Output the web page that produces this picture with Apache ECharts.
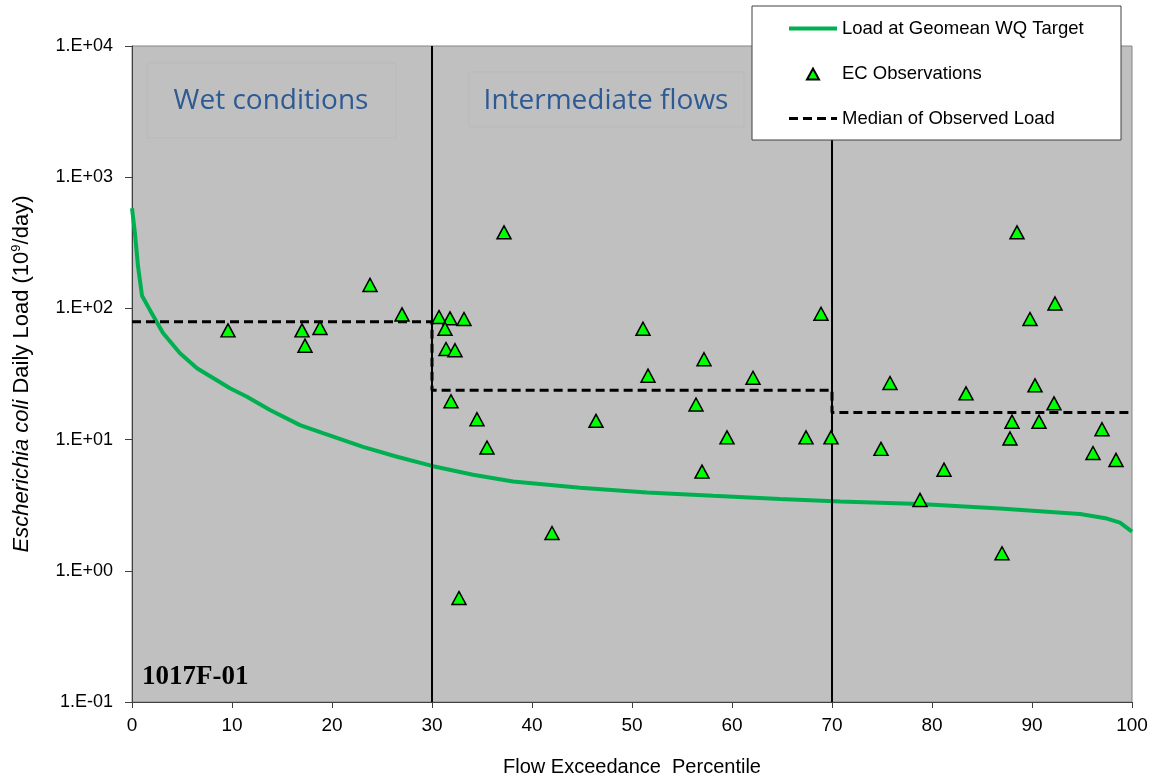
<!DOCTYPE html>
<html>
<head>
<meta charset="utf-8">
<script src="https://cdn.jsdelivr.net/npm/echarts@6/dist/echarts.min.js"></script>
<style>
html,body{margin:0;padding:0;background:#fff;}
#chart{width:1158px;height:778px;}
</style>
</head>
<body>
<div id="chart"></div>
<script>
// ---- data ----
const targetPct  = [0, 0.3, 0.6, 1.0, 1.8, 3.1, 4.8, 6.5, 9.8, 11.5, 13.8, 16.8, 19.1, 23.1, 26.5, 30, 34.1, 38.1, 44.8, 51.5, 58.1, 64.8, 70.8, 78.8, 86.8, 94.8, 97.5, 98.8, 100];
const targetLoad = [580, 370, 210, 125, 97, 65, 45.5, 35, 24.6, 21.2, 16.8, 12.9, 11.2, 8.8, 7.4, 6.3, 5.4, 4.8, 4.3, 3.96, 3.73, 3.52, 3.38, 3.23, 2.99, 2.71, 2.5, 2.33, 1.99];

const obsPct  = [9.6, 17.0, 17.3, 18.8, 23.8, 27.0, 30.7, 31.8, 33.2, 31.3, 31.4, 32.3, 31.9, 34.5, 35.5, 32.7, 37.2,
                 51.1, 51.6, 57.2, 62.1, 68.9, 56.4, 46.4, 59.5, 67.4, 69.9, 57.0, 42.0,
                 88.5, 92.3, 89.8, 75.8, 83.4, 90.3, 92.2, 88.0, 90.7, 87.8, 97.0, 96.1, 98.4, 74.9, 81.2, 78.8, 87.0];
const obsLoad = [68, 68, 52, 71, 151, 90, 86, 84, 83, 70, 49, 48, 19.6, 14.3, 8.7, 0.62, 380,
                 70, 30.7, 41, 29.6, 91, 18.5, 13.9, 10.4, 10.4, 10.4, 5.7, 1.94,
                 380, 109, 83, 27, 22.5, 25.9, 18.9, 13.7, 13.7, 10.2, 12, 7.9, 7.0, 8.5, 5.9, 3.47, 1.36];

const medianPct  = [0, 30, 30, 70, 70, 100];
const medianLoad = [79, 79, 23.8, 23.8, 16.1, 16.1];

const regimeBounds = [30, 70];
const regimeLabels = ['Wet conditions', 'Intermediate flows'];
const stationLabel = '1017F-01';
const seriesNames = ['Load at Geomean WQ Target', 'EC Observations', 'Median of Observed Load'];

// ---- chart ----
const chart = echarts.init(document.getElementById('chart'), null, {renderer: 'canvas'});
const zip = (a, b) => a.map((v, i) => [v, b[i]]);
const sans = "'Liberation Sans', Arial, sans-serif";

function yLabel(v) {
  const e = Math.round(Math.log10(v));
  return '1.E' + (e < 0 ? '-' : '+') + String(Math.abs(e)).padStart(2, '0');
}

// legend icon: triangle centred in a 48x12 box (invisible moveTo points set the box)
const triIcon = 'path://M0,0 M48,12 M18,12 L24,1 L30,12 Z';

const option = {
  animation: false,
  backgroundColor: '#ffffff',
  grid: {
    left: 132, right: 26, top: 46, bottom: 76,
    outerBoundsMode: 'none', containLabel: false,
    show: true, backgroundColor: '#C0C0C0', borderColor: '#858585', borderWidth: 1
  },
  xAxis: {
    type: 'value', min: 0, max: 100, interval: 10,
    name: 'Flow Exceedance  Percentile', nameLocation: 'middle', nameGap: 55,
    nameTextStyle: {fontFamily: sans, fontSize: 20, color: '#000'},
    axisLine: {show: true, onZero: false, lineStyle: {color: '#404040', width: 1}},
    axisTick: {show: true, inside: false, length: 6, lineStyle: {color: '#404040'}},
    axisLabel: {fontFamily: sans, fontSize: 19, color: '#000', margin: 14},
    splitLine: {show: false}
  },
  yAxis: {
    type: 'log', logBase: 10, min: 0.1, max: 10000,
    name: '{i|Escherichia coli} Daily Load (10{s|9}/day)',
    nameLocation: 'middle', nameGap: 98, nameRotate: 90,
    nameTextStyle: {
      fontFamily: sans, fontSize: 22, color: '#000', lineHeight: 24,
      rich: {
        i: {fontFamily: sans, fontSize: 22, fontStyle: 'italic', color: '#000', lineHeight: 24},
        s: {fontFamily: sans, fontSize: 13, color: '#000', verticalAlign: 'top', lineHeight: 24}
      }
    },
    axisLine: {show: true, onZero: false, lineStyle: {color: '#404040', width: 1}},
    axisTick: {show: true, inside: false, length: 7, lineStyle: {color: '#404040'}},
    axisLabel: {fontFamily: sans, fontSize: 18, color: '#000', margin: 19, formatter: yLabel},
    splitLine: {show: false},
    minorTick: {show: false}
  },
  legend: {
    orient: 'vertical', left: 787, top: 19, padding: 0,
    itemWidth: 48, itemHeight: 12, itemGap: 26,
    selectedMode: false, z: 20,
    textStyle: {fontFamily: sans, fontSize: 18.5, color: '#000', lineHeight: 18},
    data: [
      {name: seriesNames[0], itemStyle: {opacity: 0}, lineStyle: {color: '#00B050', width: 4}},
      {name: seriesNames[1], icon: triIcon},
      {name: seriesNames[2], itemStyle: {opacity: 0}, lineStyle: {color: '#000', width: 3, type: [9, 5]}}
    ]
  },
  graphic: [
    {type: 'rect', z: 1, silent: true, shape: {x: 147, y: 63, width: 249, height: 75},
     style: {fill: 'rgba(0,0,0,0)', stroke: '#B9B9B9', lineWidth: 1}},
    {type: 'text', z: 1, silent: true, x: 271, y: 101,
     style: {text: regimeLabels[0], fontFamily: "'Open Sans', sans-serif", fontSize: 28, fill: '#2E5A94', align: 'center', verticalAlign: 'middle'}},
    {type: 'rect', z: 1, silent: true, shape: {x: 469, y: 72, width: 275, height: 55},
     style: {fill: 'rgba(0,0,0,0)', stroke: '#B9B9B9', lineWidth: 1}},
    {type: 'text', z: 1, silent: true, x: 606, y: 101,
     style: {text: regimeLabels[1], fontFamily: "'Open Sans', sans-serif", fontSize: 28, fill: '#2E5A94', align: 'center', verticalAlign: 'middle'}},
    {type: 'text', z: 5, silent: true, x: 142, y: 677,
     style: {text: stationLabel, fontFamily: "'Liberation Serif', 'Times New Roman', serif", fontWeight: 'bold', fontSize: 27, fill: '#000', align: 'left', verticalAlign: 'middle'}},
    {type: 'rect', z: 10, silent: true, shape: {x: 752, y: 6, width: 369, height: 134},
     style: {fill: '#ffffff', stroke: '#404040', lineWidth: 1}}
  ],
  series: [
    {
      name: seriesNames[0], type: 'line', data: zip(targetPct, targetLoad),
      showSymbol: false, symbol: 'none', smooth: false, z: 3,
      lineStyle: {color: '#00B050', width: 4}, itemStyle: {color: '#00B050'}
    },
    {
      name: seriesNames[1], type: 'scatter', data: zip(obsPct, obsLoad),
      symbol: 'triangle', symbolSize: [14, 13], z: 6,
      itemStyle: {color: '#00FF00', borderColor: '#000', borderWidth: 1.5, opacity: 1}
    },
    {
      name: seriesNames[2], type: 'line', data: zip(medianPct, medianLoad),
      showSymbol: false, symbol: 'none', z: 4,
      lineStyle: {color: '#000', width: 3, type: [9, 5]}, itemStyle: {color: '#000'},
      markLine: {
        silent: true, symbol: ['none', 'none'], label: {show: false},
        lineStyle: {color: '#000', width: 2, type: 'solid'},
        data: regimeBounds.map(b => ({xAxis: b}))
      }
    }
  ]
};
chart.setOption(option);
</script>
</body>
</html>
